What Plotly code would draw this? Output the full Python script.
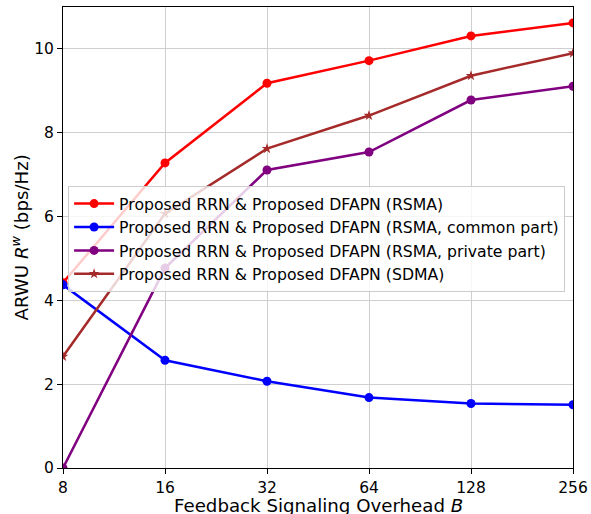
import plotly.graph_objects as go

B = [8, 16, 32, 64, 128, 256]
rsma = [4.42, 7.28, 9.18, 9.72, 10.31, 10.62]
rsma_common = [4.37, 2.57, 2.07, 1.68, 1.54, 1.51]
rsma_private = [0.0, 4.77, 7.11, 7.54, 8.78, 9.11]
sdma = [2.66, 6.07, 7.62, 8.41, 9.36, 9.90]

names = [
    "Proposed RRN & Proposed DFAPN (RSMA)",
    "Proposed RRN & Proposed DFAPN (RSMA, common part)",
    "Proposed RRN & Proposed DFAPN (RSMA, private part)",
    "Proposed RRN & Proposed DFAPN (SDMA)",
]
series = [rsma, rsma_common, rsma_private, sdma]
colors = ["#ff0000", "#0000ff", "#800080", "#a52a2a"]
symbols = ["circle", "circle", "circle", "star"]
msizes = [9, 9, 9, 8]

fig = go.Figure()
for n, s, c, sym, ms in zip(names, series, colors, symbols, msizes):
    fig.add_trace(go.Scatter(
        x=B, y=s, name=n, mode="lines+markers",
        line=dict(color=c, width=2.5),
        marker=dict(color=c, symbol=sym, size=ms, line=dict(width=0)),
    ))

fig.update_layout(
    width=591, height=514,
    margin=dict(l=63, r=18, t=7, b=46, autoexpand=False),
    plot_bgcolor="white", paper_bgcolor="white",
    font=dict(family="DejaVu Sans", size=15, color="black"),
    showlegend=True,
    legend=dict(
        x=0.01, y=0.612, xanchor="left", yanchor="top",
        bgcolor="rgba(255,255,255,0.8)", bordercolor="#cccccc", borderwidth=1,
        font=dict(size=15.7), tracegroupgap=0, itemwidth=40,
    ),
    annotations=[
        dict(text="Feedback Signaling Overhead <i>B</i>", xref="paper", yref="paper",
             x=0.5, y=0, xanchor="center", yanchor="middle", yshift=-37,
             showarrow=False, font=dict(size=18.2)),
        dict(text="ARWU <i>R</i><sup><i>w</i></sup> (bps/Hz)", xref="paper", yref="paper",
             x=0, y=0.5, xanchor="center", yanchor="middle", xshift=-43, textangle=-90,
             showarrow=False, font=dict(size=18.2)),
    ],
)
fig.update_xaxes(
    type="log", range=[0.90309, 2.40824],
    tickvals=B, ticktext=[str(v) for v in B],
    showgrid=True, gridcolor="#cfcfcf", gridwidth=1,
    showline=True, mirror=True, linecolor="black", linewidth=1,
    ticks="outside", ticklen=5, tickcolor="black",
    tickfont=dict(size=15.5), automargin=False,
)
fig.update_yaxes(
    range=[0, 11], tickvals=[0, 2, 4, 6, 8, 10],
    showgrid=True, gridcolor="#cfcfcf", gridwidth=1, zeroline=False,
    showline=True, mirror=True, linecolor="black", linewidth=1,
    ticks="outside", ticklen=5, tickcolor="black",
    tickfont=dict(size=15.5), automargin=False,
)

fig.write_html(
    "out.html",
    config={"displayModeBar": False},
    post_script="document.body.style.margin='0';document.body.style.overflow='hidden';",
)
